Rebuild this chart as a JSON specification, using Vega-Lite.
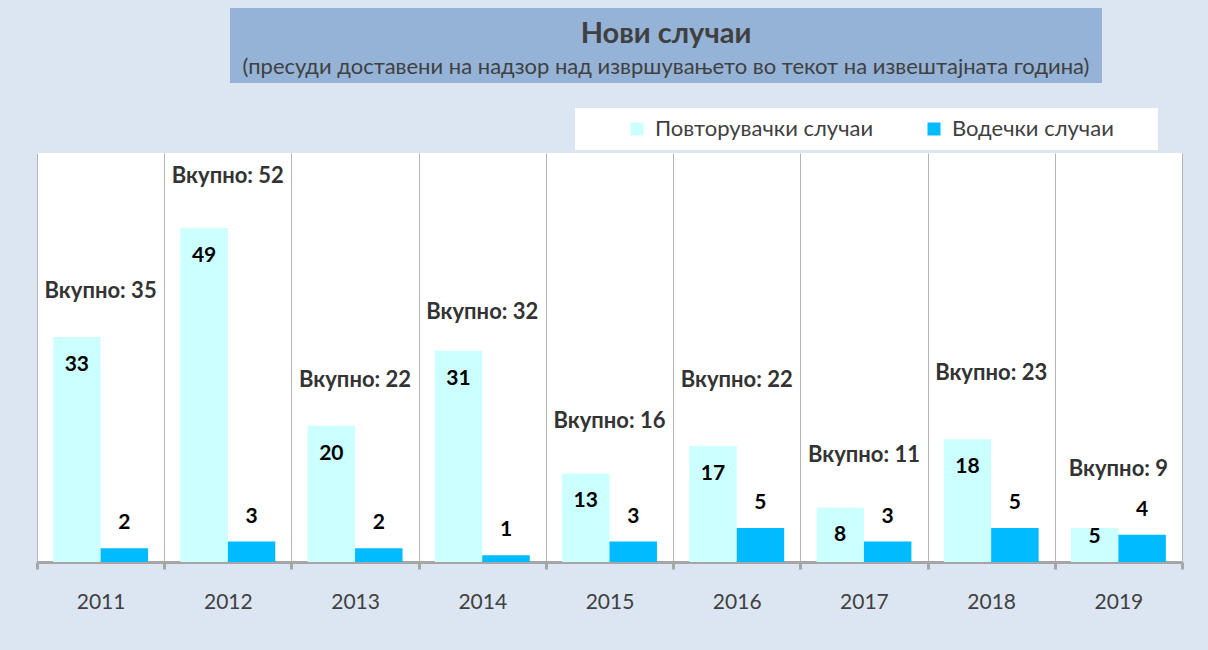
{
  "$schema": "https://vega.github.io/schema/vega-lite/v6.json",
  "background": "#dce6f2",
  "padding": {"left": 35, "top": 8, "right": 30, "bottom": 45},
  "config": {
    "view": {"stroke": null},
    "font": "Lato",
    "text": {"font": "Lato"}
  },
  "resolve": {"legend": {"color": "independent"}},
  "datasets": {
    "cases": [
      {"year": "2011", "series": "Повторувачки случаи", "value": 33},
      {"year": "2011", "series": "Водечки случаи", "value": 2},
      {"year": "2012", "series": "Повторувачки случаи", "value": 49},
      {"year": "2012", "series": "Водечки случаи", "value": 3},
      {"year": "2013", "series": "Повторувачки случаи", "value": 20},
      {"year": "2013", "series": "Водечки случаи", "value": 2},
      {"year": "2014", "series": "Повторувачки случаи", "value": 31},
      {"year": "2014", "series": "Водечки случаи", "value": 1},
      {"year": "2015", "series": "Повторувачки случаи", "value": 13},
      {"year": "2015", "series": "Водечки случаи", "value": 3},
      {"year": "2016", "series": "Повторувачки случаи", "value": 17},
      {"year": "2016", "series": "Водечки случаи", "value": 5},
      {"year": "2017", "series": "Повторувачки случаи", "value": 8},
      {"year": "2017", "series": "Водечки случаи", "value": 3},
      {"year": "2018", "series": "Повторувачки случаи", "value": 18},
      {"year": "2018", "series": "Водечки случаи", "value": 5},
      {"year": "2019", "series": "Повторувачки случаи", "value": 5},
      {"year": "2019", "series": "Водечки случаи", "value": 4}
    ],
    "totals": [
      {"year": "2011", "total": 35, "label": "Вкупно: 35"},
      {"year": "2012", "total": 52, "label": "Вкупно: 52"},
      {"year": "2013", "total": 22, "label": "Вкупно: 22"},
      {"year": "2014", "total": 32, "label": "Вкупно: 32"},
      {"year": "2015", "total": 16, "label": "Вкупно: 16"},
      {"year": "2016", "total": 22, "label": "Вкупно: 22"},
      {"year": "2017", "total": 11, "label": "Вкупно: 11"},
      {"year": "2018", "total": 23, "label": "Вкупно: 23"},
      {"year": "2019", "total": 9, "label": "Вкупно: 9"}
    ],
    "titles": [
      {"kind": "title", "text": "Нови случаи"},
      {"kind": "subtitle", "text": "(пресуди доставени на надзор над извршувањето во текот на извештајната година)"}
    ]
  },
  "vconcat": [
    {
      "hconcat": [
        {
          "width": 193,
          "height": 75,
          "data": {"values": []},
          "mark": "text",
          "encoding": {}
        },
        {
          "width": 872,
          "height": 75,
          "view": {"fill": "#95b3d7"},
          "data": {"name": "titles"},
          "layer": [
            {
              "transform": [{"filter": "datum.kind === 'title'"}],
              "mark": {"type": "text", "fontSize": 29, "fontWeight": "bold", "color": "#404040", "dy": -12, "baseline": "middle"},
              "encoding": {"text": {"field": "text"}}
            },
            {
              "transform": [{"filter": "datum.kind === 'subtitle'"}],
              "mark": {"type": "text", "fontSize": 22, "color": "#404040", "dy": 21, "baseline": "middle"},
              "encoding": {"text": {"field": "text"}}
            }
          ]
        }
      ],
      "spacing": 0
    },
    {
      "width": 1145,
      "height": 409,
      "view": {"fill": "white"},
      "encoding": {
        "x": {
          "field": "year",
          "type": "nominal",
          "scale": {"paddingInner": 0, "paddingOuter": 0},
          "axis": {
            "title": null,
            "labelAngle": 0,
            "tickBand": "extent",
            "grid": true,
            "gridColor": "#b4b4b4",
            "gridWidth": 1,
            "domainColor": "#a6a6a6",
            "domainWidth": 3,
            "tickColor": "#a6a6a6",
            "tickWidth": 3,
            "tickSize": 7,
            "labelFontSize": 21,
            "labelColor": "#404040",
            "labelFont": "Lato",
            "labelPadding": 22
          }
        }
      },
      "layer": [
        {
          "data": {"name": "cases"},
          "mark": {"type": "bar"},
          "encoding": {
            "xOffset": {"field": "series", "type": "nominal", "sort": ["Повторувачки случаи", "Водечки случаи"], "scale": {"paddingInner": 0, "paddingOuter": 0.34}},
            "y": {"field": "value", "type": "quantitative", "scale": {"domain": [0, 60]}, "axis": null},
            "color": {
              "field": "series",
              "type": "nominal",
              "scale": {"domain": ["Повторувачки случаи", "Водечки случаи"], "range": ["#ccffff", "#00bbff"]},
              "legend": {
                "title": " ",
                "titleOrient": "right",
                "titlePadding": 34,
                "titleFontSize": 10,
                "orient": "none",
                "direction": "horizontal",
                "legendX": 538,
                "legendY": -45,
                "fillColor": "white",
                "padding": 10,
                "symbolType": "square",
                "symbolSize": 169,
                "symbolStrokeWidth": 0,
                "symbolOffset": 41,
                "labelFontSize": 22,
                "labelColor": "#404040",
                "labelFont": "Lato",
                "labelOffset": 7,
                "columnPadding": 8,
                "labelLimit": 400
              }
            }
          }
        },
        {
          "data": {"name": "cases"},
          "transform": [{"filter": "datum.series === 'Повторувачки случаи' && datum.value > 5"}],
          "mark": {"type": "text", "fontSize": 21, "fontWeight": "bold", "color": "#000000", "baseline": "middle", "dy": 28},
          "encoding": {
            "xOffset": {"field": "series", "type": "nominal", "sort": ["Повторувачки случаи", "Водечки случаи"]},
            "y": {"field": "value", "type": "quantitative"},
            "text": {"field": "value"}
          }
        },
        {
          "data": {"name": "cases"},
          "transform": [{"filter": "datum.series === 'Повторувачки случаи' && datum.value <= 5"}],
          "mark": {"type": "text", "fontSize": 21, "fontWeight": "bold", "color": "#000000", "baseline": "middle", "dy": 9},
          "encoding": {
            "xOffset": {"field": "series", "type": "nominal", "sort": ["Повторувачки случаи", "Водечки случаи"]},
            "y": {"field": "value", "type": "quantitative"},
            "text": {"field": "value"}
          }
        },
        {
          "data": {"name": "cases"},
          "transform": [{"filter": "datum.series === 'Водечки случаи'"}],
          "mark": {"type": "text", "fontSize": 21, "fontWeight": "bold", "color": "#000000", "baseline": "middle", "dy": -25},
          "encoding": {
            "xOffset": {"field": "series", "type": "nominal", "sort": ["Повторувачки случаи", "Водечки случаи"]},
            "y": {"field": "value", "type": "quantitative"},
            "text": {"field": "value"}
          }
        },
        {
          "data": {"name": "totals"},
          "mark": {"type": "text", "fontSize": 22, "fontWeight": "bold", "color": "#333333", "baseline": "middle", "dy": -32},
          "encoding": {
            "y": {"field": "total", "type": "quantitative"},
            "text": {"field": "label"}
          }
        }
      ]
    }
  ],
  "spacing": 25
}
